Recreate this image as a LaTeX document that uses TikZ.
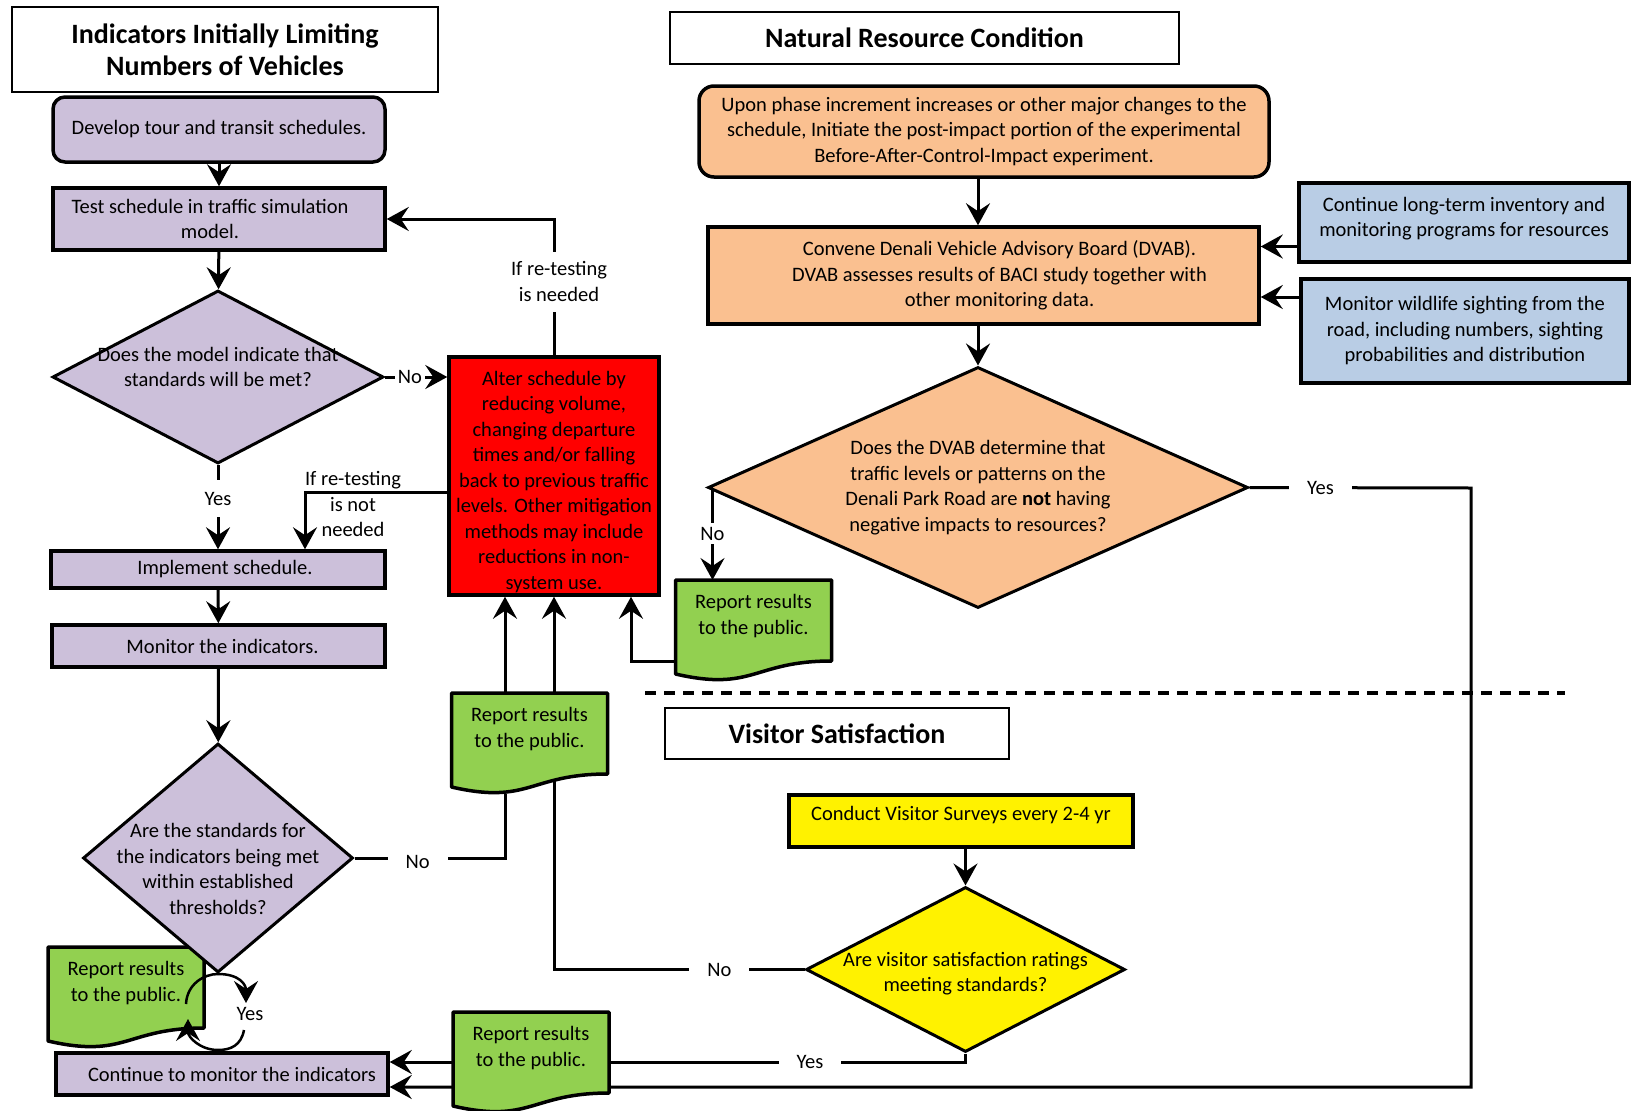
\documentclass[tikz,border=0pt]{standalone}
\usepackage{fontspec}
\setmainfont{Carlito}
\usetikzlibrary{positioning,shapes.geometric,arrows.meta,backgrounds}

\definecolor{lav}{RGB}{204,192,218}
\definecolor{peach}{RGB}{250,192,144}
\definecolor{skyb}{RGB}{185,205,229}
\definecolor{leaf}{RGB}{146,208,80}

\tikzset{
  body/.style={font=\fontsize{20.5}{25.5}\selectfont},
  heading/.style={draw, line width=2.5pt, fill=white, align=center, font=\fontsize{28}{32}\selectfont\bfseries},
  box/.style={draw, line width=3.5pt, align=center, body, inner sep=2pt},
  decision/.style={diamond, draw, line width=3pt, inner sep=0pt},
  qtext/.style={align=center, body},
  docshape/.style={draw, line width=3.5pt, fill=leaf, line join=round},
  docbody/.style={anchor=north, inner sep=0pt, minimum width=156pt, minimum height=101pt,
    label={[qtext, yshift=14.5pt]center:Report results\\to the public.}},
  arr/.style={line width=3pt, -{Stealth[length=22pt,width=24pt,inset=8pt]}},
  conn/.style={line width=3pt},
  lbl/.style={fill=white, body, inner xsep=18pt, inner ysep=3pt},
}

% green document shape, #1 name, #2 top centre
\newcommand{\reportdoc}[2]{%
  \coordinate (#1-t) at (#2);
  \filldraw[docshape] ([shift={(-78,0)}]#1-t) -- ([shift={(78,0)}]#1-t) -- ([shift={(78,81)}]#1-t)
    .. controls ([shift={(0,81)}]#1-t) and ([shift={(0,112)}]#1-t) .. ([shift={(-78,94)}]#1-t) -- cycle;
  \node[docbody] (#1) at (#1-t) {};
}

\begin{document}
\begin{tikzpicture}[x=1pt, y=-1pt]
  \useasboundingbox (0,0) rectangle (1631,1111);

  % Indicators column
  \node[heading, minimum width=426pt, minimum height=85pt] (ttl1) at (225,49.5) {Indicators Initially Limiting\\Numbers of Vehicles};
  \node[box, fill=lav, rounded corners=12pt, minimum width=332pt, minimum height=65pt] (develop) at (219,129.5) {Develop tour and transit schedules.};
  \node[box, fill=lav, minimum width=332pt, minimum height=62pt,
    label={[qtext, xshift=-9pt]center:Test schedule in traffic simulation\\model.}] (testsim) at (219,219) {};
  \node[decision, fill=lav, minimum width=331pt, minimum height=173pt,
    label={[qtext, yshift=10pt]center:Does the model indicate that\\standards will be met?}] (model) at (218,377) {};
  \node[box, fill=lav, minimum width=334pt, minimum height=37pt] (impl) at (218,569.5) {\hspace*{14pt}Implement schedule.};
  \node[box, fill=lav, minimum width=333pt, minimum height=42pt] (monitor) at (218.5,646) {\hspace*{8pt}Monitor the indicators.};
  \reportdoc{rep1}{126,947}
  \node[decision, fill=lav, minimum width=270pt, minimum height=229pt,
    label={[qtext, yshift=-11pt]center:Are the standards for\\the indicators being met\\within established\\thresholds?}] (stds) at (218,858) {};
  \node[box, fill=lav, minimum width=332pt, minimum height=42pt] (contmon) at (222,1074) {\hspace*{20pt}Continue to monitor the indicators};
  \node[body, align=center] (notneeded) at (353,504) {If re-testing\\is not\\needed};

  % mitigation and reports
  \node[box, fill=red, minimum width=210pt, minimum height=238pt,
    label={[qtext, yshift=-6pt]center:Alter schedule by\\reducing volume,\\changing departure\\times and/or falling\\back to previous  traffic\\levels. Other mitigation\\methods may include\\reductions in non-\\system use.}] (alter) at (554,476) {};
  \reportdoc{rep2}{529.5,693}
  \reportdoc{rep3}{753.5,580}
  \reportdoc{rep4}{531,1012}

  % Natural resource column
  \node[heading, minimum width=509pt, minimum height=52pt] (ttl2) at (924.5,38) {Natural Resource Condition};
  \node[box, fill=peach, rounded corners=15pt, minimum width=570pt, minimum height=91pt] (upon) at (984,131.5) {Upon phase increment increases or other  major changes to the\\schedule, Initiate the post-impact portion of the experimental\\Before-After-Control-Impact experiment.};
  \node[box, fill=peach, minimum width=551pt, minimum height=97pt] (dvab) at (983.5,275.5) {\hspace*{32pt}Convene Denali Vehicle Advisory Board (DVAB).\\\hspace*{32pt}DVAB assesses results of BACI study together with\\\hspace*{32pt}other monitoring  data.};
  \node[box, fill=skyb, minimum width=330pt, minimum height=79pt,
    label={[qtext, yshift=4pt]center:Continue long-term inventory  and\\monitoring programs for resources}] (invent) at (1464,222.5) {};
  \node[box, fill=skyb, minimum width=328pt, minimum height=104pt] (wildlife) at (1465,331) {Monitor wildlife sighting from the\\road, including numbers, sighting\\probabilities and distribution};
  \node[decision, fill=peach, minimum width=540pt, minimum height=241pt,
    label={[qtext]center:Does the DVAB determine that\\traffic levels or patterns on the\\Denali Park Road are \textbf{not} having\\negative impacts to resources?}] (impact) at (978,487.5) {};
  \coordinate (rbend) at (1471,488);

  % Visitor satisfaction
  \node[heading, minimum width=344pt, minimum height=51pt] (ttl3) at (837,733.5) {Visitor Satisfaction};
  \node[box, fill=yellow, minimum width=344pt, minimum height=52pt, text depth=15pt] (survey) at (961,821) {Conduct Visitor Surveys every 2-4 yr};
  \node[decision, fill=yellow, minimum width=319pt, minimum height=165pt,
    label={[qtext, yshift=-4pt]center:Are visitor satisfaction ratings\\meeting standards?}] (satis) at (965.5,969.5) {};

  \draw[line width=3.5pt, dash pattern=on 11pt off 8pt] (645,693) -- (1565,693);

  % connectors behind the boxes
  \begin{scope}[on background layer]
    \draw[arr] (develop) -- (testsim);
    \draw[arr] (testsim) -- (model);
    \draw[arr] (model.east) -- node[pos=0.4, lbl, inner xsep=3pt]{No} (model.east -| alter.west);
    \draw[arr] (alter.north) |- node[pos=0.27, lbl, align=center, inner xsep=3pt, inner ysep=10pt, xshift=5pt]{If re-testing\\is needed} (testsim.east);
    \draw[arr] (model.south) -- node[pos=0.4, lbl, inner xsep=3pt, inner ysep=12pt]{Yes} (impl.north);
    \draw[arr] ([shift={(0,16)}]alter.west) -| ([shift={(87,0)}]impl.north);
    \draw[arr] (impl) -- (monitor);
    \draw[arr] (monitor) -- (stds);
    \draw[conn] (stds.east) -| node[pos=0.21, lbl, yshift=-4pt]{No} ([shift={(-49,0)}]alter.south |- rep2.south);
    \draw[arr] ([shift={(-49,0)}]alter.south |- rep2.north) -- ([shift={(-49,0)}]alter.south);
    \draw[arr] (satis.west) -| node[pos=0.17, lbl]{No} (alter.south);
    \draw[arr] ([shift={(0,31)}]rep3.west) -| ([shift={(77,0)}]alter.south);
    \draw[arr] ([shift={(6,0)}]impact.west) -- node[lbl, inner xsep=3pt, inner ysep=4pt]{No} ([shift={(6,0)}]impact.west |- rep3.north);
    \draw[arr] (satis.south) |- node[pos=0.635, lbl]{Yes} ([shift={(0,-12)}]contmon.east);
    \draw[arr] (impact.east) -- node[pos=0.32, lbl]{Yes} (rbend) |- ([shift={(0,13)}]contmon.east);
    \draw[arr] (impact.north |- upon.south) -- (impact.north |- dvab.north);
    \draw[arr] (dvab.south -| impact.north) -- (impact.north);
    \draw[arr] ([shift={(0,24)}]invent.west) -- ([shift={(0,24)}]invent.west -| dvab.east);
    \draw[arr] ([shift={(0,-34)}]wildlife.west) -- ([shift={(0,-34)}]wildlife.west -| dvab.east);
    \draw[arr] (survey.south -| satis.north) -- (satis.north);
  \end{scope}

  % loop below the indicator question
  \coordinate (loopc) at (217,1011);
  \draw[arr, line width=2.5pt] (stds.south) .. controls +(22,0) and +(0,-18) .. ([shift={(29,-8)}]loopc);
  \draw[arr, line width=2.5pt] ([shift={(27,19)}]loopc) .. controls +(-3,16) and +(12,0) .. ([shift={(1,39)}]loopc) .. controls +(-18,0) and +(0,18) .. ([shift={(-29,8)}]loopc);
  \draw[conn, line width=2.5pt] ([shift={(-31,-7)}]loopc) .. controls +(1,-20) and +(-14,0) .. (stds.south);
  \node[body] (yes2) at (250,1014) {Yes};
\end{tikzpicture}
\end{document}
